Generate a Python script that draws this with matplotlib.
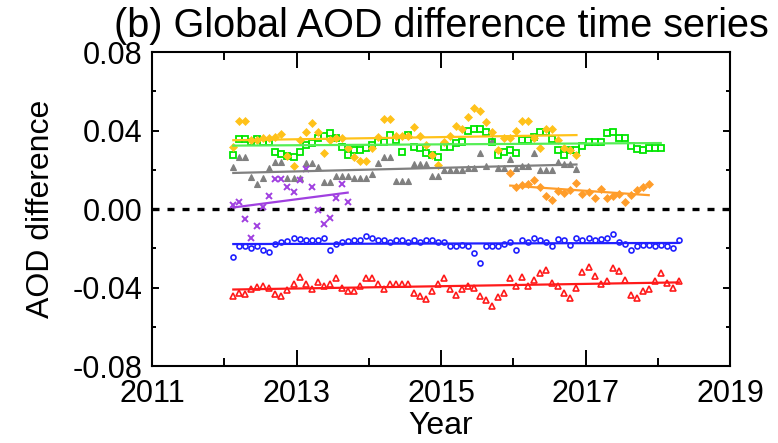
import numpy as np
import matplotlib
matplotlib.use("Agg")
import matplotlib.pyplot as plt
from matplotlib.ticker import MultipleLocator, FixedLocator, FormatStrFormatter

plt.rcParams['font.family'] = ['Liberation Sans', 'DejaVu Sans']
plt.rcParams['axes.unicode_minus'] = False

# Monthly global-mean AOD differences; each series starts at the given month
yellow_start = "2012-02"
yellow = [0.0316, 0.045, 0.045, 0.035, 0.035, 0.036, 0.036, 0.0367, 0.038, 0.027, 0.022,
          0.035, 0.039, 0.0438, 0.039, 0.0285, 0.035, 0.036, 0.036, 0.031, 0.0267, 0.0245, 0.0245,
          0.031, 0.0367, 0.046, 0.046, 0.037, 0.037, 0.037, 0.042, 0.037, 0.0326, 0.0275, 0.0224,
          0.034, 0.037, 0.0423, 0.041, 0.047, 0.0515, 0.050, 0.0443, 0.039, 0.030, 0.036, 0.036,
          0.040, 0.045, 0.045, 0.036, 0.031, 0.041, 0.041, 0.035, 0.031, 0.030, 0.0275]

green_start = "2012-02"
green = [0.0275, 0.0357, 0.0357, 0.034, 0.0357, 0.034, 0.034, 0.029, 0.028, 0.027, 0.0265,
         0.029, 0.0326, 0.0335, 0.036, 0.037, 0.0387, 0.036, 0.0316, 0.0275, 0.030, 0.030, 0.031,
         0.0326, 0.034, 0.034, 0.0377, 0.035, 0.029, 0.0377, 0.0316, 0.031, 0.0285, 0.0275, 0.0265,
         0.0316, 0.0316, 0.0336, 0.034, 0.040, 0.041, 0.041, 0.039, 0.034, 0.0275, 0.029, 0.030,
         0.0285, 0.035, 0.035, 0.0367, 0.039, 0.039, 0.0357, 0.030, 0.0275, 0.030, 0.030, 0.032,
         0.034, 0.034, 0.034, 0.0387, 0.039, 0.036, 0.036, 0.032, 0.0306, 0.030, 0.031, 0.031,
         0.031]

gray_start = "2012-02"
gray = [0.0216, 0.0265, 0.0265, 0.0165, 0.0127, 0.016, 0.021, 0.024, 0.024, 0.0158, 0.0158,
        0.0158, 0.0235, 0.0235, 0.0216, 0.0138, 0.0138, 0.017, 0.017, 0.017, 0.016, 0.016, 0.016,
        0.018, 0.0235, 0.0265, 0.0265, 0.0143, 0.0143, 0.0143, 0.023, 0.023, 0.023, 0.0168, 0.0168,
        0.020, 0.020, 0.020, 0.020, 0.021, 0.021, 0.0285, 0.022, 0.035, 0.021, 0.021, 0.0255,
        0.021, 0.022, 0.022, 0.0285, 0.020, 0.020, 0.020, 0.024, 0.023, 0.023, 0.0203]

purple_start = "2012-02"
purple = [0.002, 0.0037, -0.005, -0.015, -0.0085, 0.001, 0.0066, 0.0153, 0.0153, 0.0114,
          0.0085, 0.015, 0.0204, 0.011, -0.0005, -0.0075, -0.0046, 0.0058, 0.0127, 0.0036]

orange_start = "2015-12"
orange = [0.0185, 0.0112, 0.0122, 0.0127, 0.0146, 0.0112, 0.0066, 0.0044, 0.009, 0.008,
          0.0097, 0.0132, 0.0078, 0.0088, 0.0056, 0.010, 0.0058, 0.0066, 0.0075, 0.0038,
          0.0072, 0.0098, 0.011, 0.0127]

blue_start = "2012-02"
blue = [-0.0245, -0.019, -0.019, -0.020, -0.019, -0.021, -0.022, -0.018, -0.017, -0.0165, -0.015,
        -0.0155, -0.016, -0.016, -0.016, -0.015, -0.021, -0.018, -0.017, -0.0165, -0.016, -0.016, -0.014,
        -0.015, -0.016, -0.016, -0.017, -0.016, -0.016, -0.017, -0.016, -0.017, -0.016, -0.016, -0.017,
        -0.017, -0.019, -0.019, -0.0185, -0.019, -0.0225, -0.0277, -0.019, -0.019, -0.019, -0.018, -0.017,
        -0.021, -0.016, -0.017, -0.015, -0.016, -0.017, -0.019, -0.0155, -0.016, -0.0185, -0.015, -0.016,
        -0.015, -0.016, -0.0155, -0.015, -0.0125, -0.017, -0.018, -0.021, -0.019, -0.0185, -0.0185, -0.019,
        -0.0185, -0.019, -0.020, -0.016]

red_start = "2012-02"
red = [-0.0443, -0.043, -0.0435, -0.041, -0.0395, -0.039, -0.040, -0.0435, -0.0445, -0.0413, -0.038,
       -0.0345, -0.038, -0.041, -0.037, -0.039, -0.038, -0.035, -0.040, -0.042, -0.042, -0.039, -0.035,
       -0.035, -0.038, -0.041, -0.038, -0.038, -0.038, -0.038, -0.043, -0.0445, -0.046, -0.042, -0.038,
       -0.035, -0.041, -0.044, -0.041, -0.039, -0.040, -0.0445, -0.0463, -0.0495, -0.045, -0.043, -0.035,
       -0.039, -0.0345, -0.039, -0.036, -0.0327, -0.031, -0.0375, -0.039, -0.043, -0.0455, -0.040, -0.032,
       -0.0295, -0.034, -0.038, -0.0365, -0.030, -0.0315, -0.036, -0.0438, -0.0455, -0.042, -0.041, -0.0365,
       -0.0325, -0.0375, -0.040, -0.0365]

year_ticks = [2011, 2013, 2015, 2017, 2019]


def decimal_years(start, n):
    y, m = map(int, start.split("-"))
    idx = np.arange(n) + (m - 1)
    return y + idx // 12 + ((idx % 12) + 0.5) / 12.0


series = [
    (red_start, red, dict(color="#FF1A1A", marker="^", ms=5, mfc="none", mew=1.2), "#FF1A1A"),
    (blue_start, blue, dict(color="#2020FF", marker="o", ms=3.6, mfc="none", mew=1.2), "#2020FF"),
    (gray_start, gray, dict(color="#808080", marker="^", ms=5, mfc="#808080", mew=0.8), "#808080"),
    (green_start, green, dict(color="#00E600", marker="s", ms=5, mfc="none", mew=1.3), "#55EE55"),
    (yellow_start, yellow, dict(color="#FFC21A", marker="D", ms=3.8, mew=0.5), "#FFC21A"),
    (purple_start, purple, dict(color="#A040E0", marker="x", ms=4, mew=1.4), "#A040E0"),
    (orange_start, orange, dict(color="#FF9D2A", marker="D", ms=3.8, mew=0.5), "#FF9D2A"),
]

fig = plt.figure(figsize=(7.78, 4.43), dpi=100)
ax = fig.add_axes([0.1954, 0.1738, 0.7429, 0.7088])

ax.axhline(0.0, color="black", lw=2.4, ls=(0, (2.1, 2.4)), zorder=1)

for start, vals, style, line_color in series:
    vals = np.asarray(vals)
    t = decimal_years(start, len(vals))
    ax.plot(t, vals, ls="none", zorder=2, **style)
    slope, icpt = np.polyfit(t, vals, 1)
    ax.plot(t[[0, -1]], slope * t[[0, -1]] + icpt, color=line_color, lw=1.6, zorder=3)

ax.set_xlim(2011, 2019)
ax.set_ylim(-0.08, 0.08)
ax.xaxis.set_major_locator(FixedLocator(year_ticks))
ax.xaxis.set_minor_locator(MultipleLocator(1))
ax.yaxis.set_major_locator(MultipleLocator(0.04))
ax.yaxis.set_minor_locator(MultipleLocator(0.02))
ax.yaxis.set_major_formatter(FormatStrFormatter("%.2f"))

ax.tick_params(axis="both", which="both", direction="in", top=True, right=True, width=1.4)
ax.tick_params(axis="x", which="major", length=11.5, pad=9, labelsize=22)
ax.tick_params(axis="x", which="minor", length=5.8)
ax.tick_params(axis="y", which="major", length=5, pad=7, labelsize=22)
ax.tick_params(axis="y", which="minor", length=2.6)
for sp in ax.spines.values():
    sp.set_linewidth(1.5)

ax.set_xlabel("Year", fontsize=23, labelpad=2)
ax.set_ylabel("AOD difference", fontsize=23, labelpad=12)
ax.set_title("(b) Global AOD difference time series", fontsize=28.5, pad=11)

fig.savefig("out.png", dpi=100)
